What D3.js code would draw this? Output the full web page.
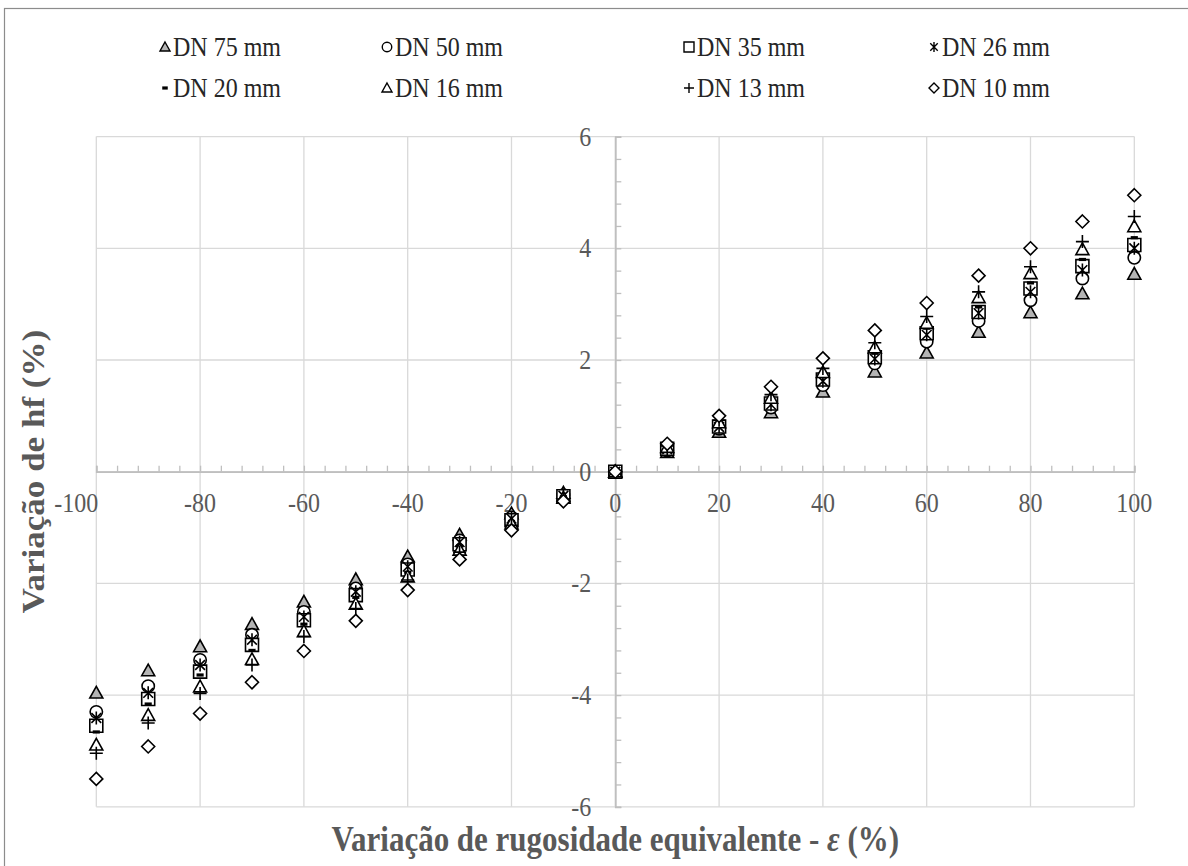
<!DOCTYPE html>
<html>
<head>
<meta charset="utf-8">
<script src="https://cdn.jsdelivr.net/npm/d3@7"></script>
<style>
  body { margin: 0; background: #fff; }
</style>
</head>
<body>
<div id="chart"></div>
<script>
// Data
const xValues = [-100, -90, -80, -70, -60, -50, -40, -30, -20, -10, 0, 10, 20, 30, 40, 50, 60, 70, 80, 90, 100];
const dn75 = [-3.96, -3.56, -3.13, -2.73, -2.33, -1.93, -1.52, -1.13, -0.75, -0.38, 0, 0.35, 0.71, 1.06, 1.43, 1.79, 2.13, 2.50, 2.85, 3.19, 3.54];
const dn50 = [-4.30, -3.84, -3.37, -2.92, -2.51, -2.09, -1.66, -1.23, -0.82, -0.42, 0, 0.38, 0.77, 1.15, 1.55, 1.94, 2.33, 2.70, 3.07, 3.46, 3.83];
const dn35 = [-4.55, -4.07, -3.58, -3.10, -2.66, -2.21, -1.75, -1.30, -0.87, -0.44, 0, 0.41, 0.81, 1.22, 1.65, 2.05, 2.48, 2.86, 3.28, 3.68, 4.06];
const dn26 = [-4.41, -3.96, -3.46, -3.01, -2.60, -2.15, -1.70, -1.26, -0.84, -0.43, 0, 0.40, 0.80, 1.20, 1.62, 2.02, 2.45, 2.84, 3.22, 3.61, 4.00];
const dn20 = [-4.66, -4.16, -3.64, -3.20, -2.73, -2.25, -1.80, -1.33, -0.89, -0.45, 0, 0.42, 0.84, 1.26, 1.70, 2.12, 2.57, 2.95, 3.38, 3.80, 4.19];
const dn16 = [-4.89, -4.36, -3.85, -3.36, -2.86, -2.37, -1.88, -1.40, -0.93, -0.47, 0, 0.44, 0.88, 1.32, 1.78, 2.22, 2.66, 3.12, 3.55, 3.98, 4.39];
const dn13 = [-5.04, -4.50, -3.97, -3.46, -2.95, -2.45, -1.94, -1.44, -0.96, -0.49, 0, 0.46, 0.92, 1.38, 1.85, 2.31, 2.78, 3.22, 3.67, 4.12, 4.57];
const dn10 = [-5.50, -4.92, -4.33, -3.77, -3.21, -2.67, -2.12, -1.57, -1.05, -0.53, 0, 0.50, 1.00, 1.52, 2.03, 2.53, 3.02, 3.51, 4.00, 4.48, 4.95];

const seriesNames = ["DN 75 mm", "DN 50 mm", "DN 35 mm", "DN 26 mm", "DN 20 mm", "DN 16 mm", "DN 13 mm", "DN 10 mm"];
const seriesValues = [dn75, dn50, dn35, dn26, dn20, dn16, dn13, dn10];
const seriesMarkers = ["triGray", "circle", "square", "star", "dash", "triangle", "plus", "diamond"];

const xTicks = [-100, -80, -60, -40, -20, 0, 20, 40, 60, 80, 100];
const yTicks = [-6, -4, -2, 0, 2, 4, 6];

const W = 1188, H = 866;
const plot = { left: 96.3, right: 1134.3, top: 136.6, bottom: 806.8 };
const font = "'Liberation Serif', 'Times New Roman', serif";
const stretch = "scale(1,1.13)";  // text in the picture is a bit taller than wide

const svg = d3.select("#chart")
  .append("svg")
    .attr("width", W)
    .attr("height", H)
    .style("font-family", font);

// chart frame
svg.append("rect")
  .attr("x", 4.5).attr("y", 8.5)
  .attr("width", 1300).attr("height", 1000)
  .attr("fill", "none")
  .attr("stroke", "#8c8c8c")
  .attr("stroke-width", 1.2);

const x = d3.scaleLinear().domain([-100, 100]).range([plot.left, plot.right]);
const y = d3.scaleLinear().domain([-6, 6]).range([plot.bottom, plot.top]);

// gridlines
svg.append("g")
  .selectAll("line")
  .data(xTicks)
  .join("line")
    .attr("x1", d => x(d)).attr("x2", d => x(d))
    .attr("y1", y(6)).attr("y2", y(-6))
    .attr("stroke", "#d9d9d9").attr("stroke-width", 1.3);
svg.append("g")
  .selectAll("line")
  .data(yTicks)
  .join("line")
    .attr("x1", x(-100)).attr("x2", x(100))
    .attr("y1", d => y(d)).attr("y2", d => y(d))
    .attr("stroke", "#d9d9d9").attr("stroke-width", 1.3);

// axes through zero, minor ticks inside
const xAxis = svg.append("g")
  .attr("transform", `translate(0,${y(0)})`)
  .call(d3.axisTop(x).tickValues(d3.range(-100, 100.1, 4)).tickSize(6).tickFormat(""));
const yAxis = svg.append("g")
  .attr("transform", `translate(${x(0)},0)`)
  .call(d3.axisRight(y).tickValues(d3.range(-6, 6.01, 0.4)).tickSize(6).tickFormat(""));
[xAxis, yAxis].forEach(g => {
  g.selectAll("path.domain").attr("stroke", "#bfbfbf").attr("stroke-width", 1.8);
  g.selectAll(".tick line").attr("stroke", "#bfbfbf").attr("stroke-width", 1.3);
});

// tick labels (first x label sits left of its gridline, as in the picture)
svg.append("g")
  .selectAll("text")
  .data(xTicks)
  .join("text")
    .attr("transform", d => `translate(${d === -100 ? x(d) + 2 : x(d)},${y(0) + 40}) ${stretch}`)
    .attr("text-anchor", d => d === -100 ? "end" : "middle")
    .attr("fill", "#595959")
    .style("font-size", "24px")
    .text(d => d);
svg.append("g")
  .selectAll("text")
  .data(yTicks)
  .join("text")
    .attr("transform", d => `translate(${x(0) - 24},${y(d) + 9}) ${stretch}`)
    .attr("text-anchor", "end")
    .attr("fill", "#595959")
    .style("font-size", "24px")
    .text(d => d);

// marker shapes
function markerPath(type, s) {
  const h = s / 2;
  switch (type) {
    case "triGray":
    case "triangle":
      return `M0,${-h}L${h},${h * 0.8}L${-h},${h * 0.8}Z`;
    case "square":
      return `M${-h},${-h}H${h}V${h}H${-h}Z`;
    case "diamond":
      return `M0,${-h}L${h},0L0,${h}L${-h},0Z`;
    case "plus":
      return `M${-h},0H${h}M0,${-h}V${h}`;
    case "star": {
      const k = h * 0.75;
      return `M${-k},${-k}L${k},${k}M${-k},${k}L${k},${-k}M0,${-h}V${h}`;
    }
    case "circle":
      return d3.arc()({ innerRadius: 0, outerRadius: h * 0.95, startAngle: 0, endAngle: 2 * Math.PI });
    case "dash":
      return `M${-h * 0.55},${-1.6}H${h * 0.55}V${1.6}H${-h * 0.55}Z`;
  }
}
function markerFill(type) {
  if (type === "triGray") return "#b4b4b4";
  if (type === "dash") return "#000";
  if (type === "plus" || type === "star") return "none";
  return "#fff";
}

// points
seriesValues.forEach((vals, i) => {
  const type = seriesMarkers[i];
  svg.append("g")
    .selectAll("path")
    .data(vals.map((v, j) => [xValues[j], v]))
    .join("path")
      .attr("transform", d => `translate(${x(d[0])},${y(d[1])})`)
      .attr("d", markerPath(type, 13))
      .attr("fill", markerFill(type))
      .attr("stroke", "#000")
      .attr("stroke-width", type === "dash" ? 0 : 1.6);
});

// legend
const legendCols = [173, 395, 697, 942];
const legendRows = [47, 88];
const legend = svg.append("g");
seriesNames.forEach((name, i) => {
  const lx = legendCols[i % 4], ly = legendRows[Math.floor(i / 4)];
  const type = seriesMarkers[i];
  legend.append("path")
    .attr("transform", `translate(${lx - 8},${ly})`)
    .attr("d", markerPath(type, 10))
    .attr("fill", markerFill(type))
    .attr("stroke", "#000")
    .attr("stroke-width", type === "dash" ? 0 : 1.4);
  legend.append("text")
    .attr("transform", `translate(${lx},${ly + 9}) ${stretch}`)
    .attr("fill", "#262626")
    .style("font-size", "24px")
    .text(name);
});

// axis titles
const xTitle = svg.append("text")
  .attr("transform", `translate(${(plot.left + plot.right) / 2},851) ${stretch}`)
  .attr("text-anchor", "middle")
  .attr("fill", "#595959")
  .style("font-size", "31px")
  .style("font-weight", "bold");
xTitle.append("tspan").text("Variação de rugosidade equivalente - ");
xTitle.append("tspan").style("font-style", "italic").text("ε");
xTitle.append("tspan").text(" (%)");

svg.append("text")
  .attr("transform", `translate(44,${(plot.top + plot.bottom) / 2}) ${stretch} rotate(-90)`)
  .attr("text-anchor", "middle")
  .attr("fill", "#595959")
  .style("font-size", "31px")
  .style("font-weight", "bold")
  .text("Variação de hf (%)");
</script>
</body>
</html>
